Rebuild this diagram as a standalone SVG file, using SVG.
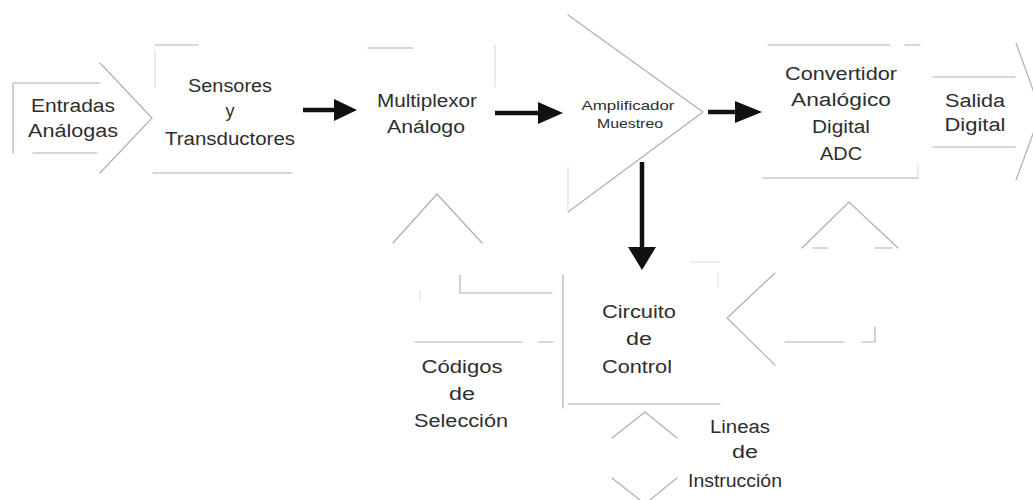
<svg xmlns="http://www.w3.org/2000/svg" width="1033" height="500" viewBox="0 0 1033 500">
  <style>
    .frame { fill: none; stroke: #afafaf; stroke-width: 1.2; stroke-linecap: round; stroke-linejoin: miter; }
    .faint { fill: none; stroke: #dadada; stroke-width: 1.1; }
    .lbl { font-family: "Liberation Sans", Arial, sans-serif; font-size: 18px; fill: #2e2e2e; text-anchor: middle; }
    .small { font-size: 13px; }
    .wire { stroke: #111; stroke-width: 4.5; fill: none; }
    .head { fill: #111; }
  </style>
  <rect width="1033" height="500" fill="#ffffff"/>

  <!-- Input block: open arrow shape -->
  <g id="entradas">
    <path class="frame" d="M13,83 H100 M13,83 V153 M33,153 H97"/>
    <path class="frame" d="M100,63 L152,118 L100,173"/>
    <text class="lbl" x="73" y="112" textLength="84" lengthAdjust="spacingAndGlyphs">Entradas</text>
    <text class="lbl" x="73" y="137" textLength="90" lengthAdjust="spacingAndGlyphs">Análogas</text>
  </g>

  <g id="sensores">
    <path class="frame" d="M155,45 H198 M153,173 H292"/>
    <path class="faint" d="M155,50 V88"/>
    <text class="lbl" x="230" y="92" textLength="84" lengthAdjust="spacingAndGlyphs">Sensores</text>
    <text class="lbl" x="230" y="117">y</text>
    <text class="lbl" x="230" y="145" textLength="130" lengthAdjust="spacingAndGlyphs">Transductores</text>
  </g>

  <g id="multiplexor">
    <path class="frame" d="M368,48 H413"/>
    <path class="faint" d="M495,45 V87"/>
    <text class="lbl" x="427" y="107" textLength="100" lengthAdjust="spacingAndGlyphs">Multiplexor</text>
    <text class="lbl" x="426" y="133" textLength="78" lengthAdjust="spacingAndGlyphs">Análogo</text>
  </g>

  <g id="amplificador">
    <path class="frame" d="M568,15 L703,112 L568,212"/>
    <path class="faint" d="M568,167 V210"/>
    <text class="lbl small" x="628" y="110" textLength="93" lengthAdjust="spacingAndGlyphs">Amplificador</text>
    <text class="lbl small" x="630" y="128" textLength="66" lengthAdjust="spacingAndGlyphs">Muestreo</text>
  </g>

  <g id="convertidor">
    <path class="frame" d="M768,45 H890 M905,45 H920 M763,178 H918"/>
    <path class="faint" d="M918,165 V178"/>
    <text class="lbl" x="841" y="80" textLength="112" lengthAdjust="spacingAndGlyphs">Convertidor</text>
    <text class="lbl" x="841" y="106" textLength="100" lengthAdjust="spacingAndGlyphs">Analógico</text>
    <text class="lbl" x="841" y="133" textLength="58" lengthAdjust="spacingAndGlyphs">Digital</text>
    <text class="lbl" x="841" y="160" textLength="42" lengthAdjust="spacingAndGlyphs">ADC</text>
  </g>

  <!-- Output block: open arrow shape -->
  <g id="salida">
    <path class="frame" d="M933,77 H1015 M933,147 H1015"/>
    <path class="frame" d="M1016,43 L1041,112 L1016,180"/>
    <text class="lbl" x="975" y="107" textLength="60" lengthAdjust="spacingAndGlyphs">Salida</text>
    <text class="lbl" x="975" y="131" textLength="61" lengthAdjust="spacingAndGlyphs">Digital</text>
  </g>

  <g id="circuito">
    <path class="frame" d="M563,275 V408 M568,404 H720"/>
    <text class="lbl" x="639" y="318" textLength="74" lengthAdjust="spacingAndGlyphs">Circuito</text>
    <text class="lbl" x="639" y="345" textLength="26" lengthAdjust="spacingAndGlyphs">de</text>
    <text class="lbl" x="637" y="373" textLength="70" lengthAdjust="spacingAndGlyphs">Control</text>
  </g>

  <!-- Selection codes: upward open arrow toward the multiplexer -->
  <g id="codigos">
    <path class="frame" d="M393,243 L437,194 L482,243"/>
    <path class="frame" d="M460,275 V293 H552"/>
    <path class="frame" d="M415,342 H522 M538,342 H553"/>
    <path class="faint" d="M420,290 V300"/>
    <text class="lbl" x="462" y="373" textLength="81" lengthAdjust="spacingAndGlyphs">Códigos</text>
    <text class="lbl" x="462" y="400" textLength="26" lengthAdjust="spacingAndGlyphs">de</text>
    <text class="lbl" x="461" y="427" textLength="94" lengthAdjust="spacingAndGlyphs">Selección</text>
  </g>

  <!-- Converter control link: open arrows pointing up and left -->
  <g id="enlace-adc">
    <path class="frame" d="M802,248 L849,202 L898,248"/>
    <path class="frame" d="M813,248 H828 M875,248 H892"/>
    <path class="frame" d="M775,273 L727,318 L775,365"/>
    <path class="frame" d="M785,342 H843 M862,342 H875 V327"/>
    <path class="faint" d="M690,262 H720 M718,273 V287"/>
  </g>

  <!-- Instruction lines: double open arrow below the controller -->
  <g id="instruccion">
    <path class="frame" d="M612,438 L645,412 L677,438"/>
    <path class="frame" d="M612,478 L645,504 L677,478"/>
    <text class="lbl" x="740" y="433" textLength="60" lengthAdjust="spacingAndGlyphs">Lineas</text>
    <text class="lbl" x="745" y="458" textLength="26" lengthAdjust="spacingAndGlyphs">de</text>
    <text class="lbl" x="735" y="487" textLength="94" lengthAdjust="spacingAndGlyphs">Instrucción</text>
  </g>

  <!-- Solid signal-flow arrows -->
  <g id="conectores">
    <path class="wire" d="M303,110 H338"/>
    <polygon class="head" points="334,99 357,110 334,121"/>
    <path class="wire" d="M495,113 H541"/>
    <polygon class="head" points="538,102 563,113 538,124"/>
    <path class="wire" d="M708,112 H738"/>
    <polygon class="head" points="735,101 762,112 735,123"/>
    <path class="wire" d="M642,162 V250"/>
    <polygon class="head" points="628,247 656,247 642,270"/>
  </g>
</svg>
